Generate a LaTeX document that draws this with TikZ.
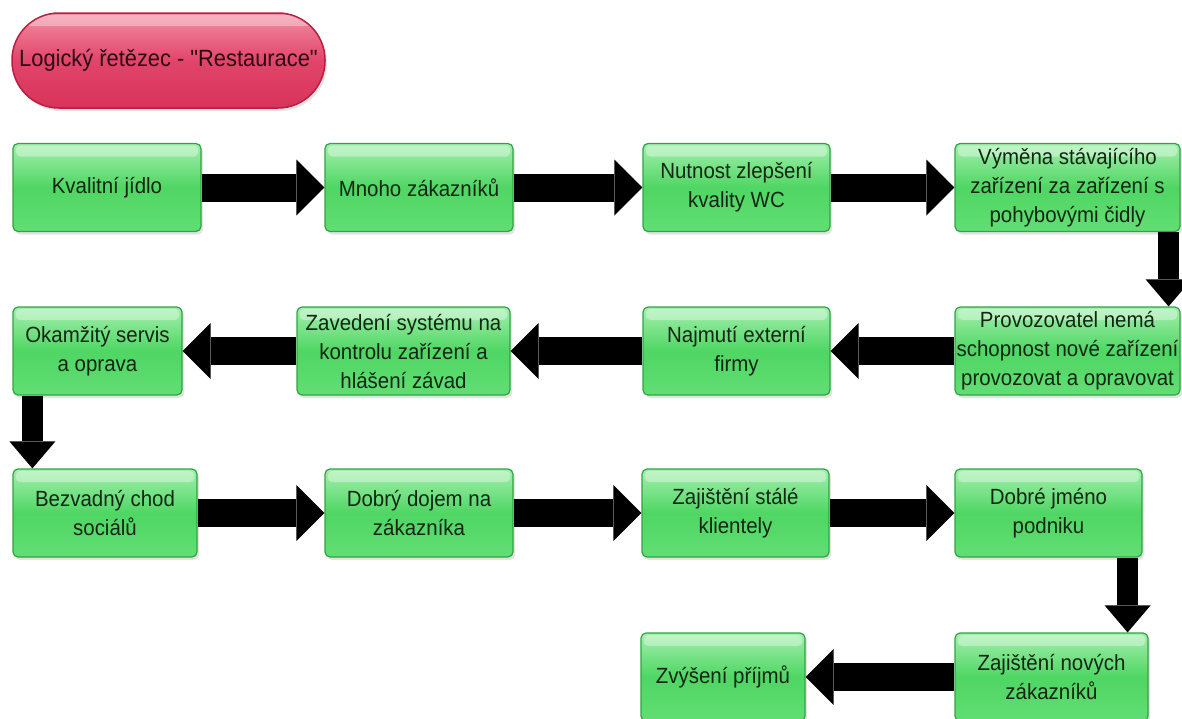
\documentclass[tikz,border=0pt]{standalone}
\usepackage{fontspec}
\newfontfamily\boxfont[FakeStretch=0.93]{Liberation Sans}
\usetikzlibrary{arrows.meta,shadows,calc}

\definecolor{gtop}{HTML}{A4F0AE}
\definecolor{gmid}{HTML}{4FD663}
\definecolor{gbot}{HTML}{62DE74}
\definecolor{gedge}{HTML}{2EA443}
\definecolor{gtext}{HTML}{132613}
\definecolor{rtop}{HTML}{F28DA2}
\definecolor{rmid}{HTML}{E2456A}
\definecolor{rbot}{HTML}{D8335A}
\definecolor{redge}{HTML}{B81E40}
\definecolor{rtext}{HTML}{2A0A12}

\tikzset{
  glossy/.style={
    path picture={
      \fill[white,opacity=0.35,rounded corners=4pt]
        ([xshift=3pt,yshift=-2pt]path picture bounding box.north west)
        rectangle ([xshift=-3pt,yshift=-13pt]path picture bounding box.north east);
    }},
  stepbox/.style={rectangle, rounded corners=5pt, draw=gedge, line width=1.2pt,
    top color=gtop, bottom color=gbot, middle color=gmid, glossy,
    drop shadow={shadow xshift=2pt, shadow yshift=-3pt, opacity=0.22},
    minimum height=88pt, inner sep=0pt, align=center, text=gtext,
    font=\boxfont\fontsize{22}{29}\selectfont},
  titlebox/.style={rectangle, rounded corners=47pt, draw=redge, line width=1.5pt,
    top color=rtop, bottom color=rbot, middle color=rmid, glossy,
    drop shadow={shadow xshift=2pt, shadow yshift=-3pt, opacity=0.22},
    minimum width=313pt, minimum height=95pt, inner sep=0pt, text=rtext,
    font=\boxfont\fontsize{23.5}{29}\selectfont},
  harrow/.style={line width=28pt, black, -{Triangle[width=56pt,length=28pt,line width=0pt]}},
  varrow/.style={line width=21pt, black, -{Triangle[width=46pt,length=27pt,line width=0pt]}}
}

\begin{document}
\begin{tikzpicture}[x=1pt,y=-1pt]
\useasboundingbox (0,0) rectangle (1182,718);

% title
\node[titlebox] (title) at (168.5,60.5) {Logický řetězec - "Restaurace"};

% row 1
\node[stepbox, minimum width=188pt] (a1) at (107,187.5) {Kvalitní jídlo};
\node[stepbox, minimum width=188pt] (a2) at (419,187.5) {Mnoho zákazníků};
\node[stepbox, minimum width=187pt] (a3) at (736.5,187.5) {Nutnost zlepšení\\kvality WC};
\node[stepbox, minimum width=225pt] (a4) at (1067.5,187.5) {Výměna stávajícího\\zařízení za zařízení s\\pohybovými čidly};

% row 2
\node[stepbox, minimum width=225pt] (b4) at (1067.5,351) {Provozovatel nemá\\schopnost nové zařízení\\provozovat a opravovat};
\node[stepbox, minimum width=187pt] (b3) at (736.5,351) {Najmutí externí\\firmy};
\node[stepbox, minimum width=213pt] (b2) at (403.5,351) {Zavedení systému na\\kontrolu zařízení a\\hlášení závad};
\node[stepbox, minimum width=169pt] (b1) at (97.5,351) {Okamžitý servis\\a oprava};

% row 3
\node[stepbox, minimum width=184pt] (c1) at (105,513) {Bezvadný chod\\sociálů};
\node[stepbox, minimum width=188pt] (c2) at (419,513) {Dobrý dojem na\\zákazníka};
\node[stepbox, minimum width=187pt] (c3) at (735.5,513) {Zajištění stálé\\klientely};
\node[stepbox, minimum width=187pt] (c4) at (1048.5,513) {Dobré jméno\\podniku};

% row 4
\node[stepbox, minimum width=193pt] (d2) at (1051.5,677) {Zajištění nových\\zákazníků};
\node[stepbox, minimum width=164pt] (d1) at (723,677) {Zvýšení příjmů};

% connectors
\draw[harrow] (a1.east) -- (a2.west);
\draw[harrow] (a2.east) -- (a3.west);
\draw[harrow] (a3.east) -- (a4.west);
\draw[varrow] ($(a4.south east)+(-12,0)$) -- ($(b4.north east)+(-12,0)$);
\draw[harrow] (b4.west) -- (b3.east);
\draw[harrow] (b3.west) -- (b2.east);
\draw[harrow] (b2.west) -- (b1.east);
\draw[varrow] ($(b1.south west)+(20,0)$) -- ($(c1.north west)+(20,0)$);
\draw[harrow] (c1.east) -- (c2.west);
\draw[harrow] (c2.east) -- (c3.west);
\draw[harrow] (c3.east) -- (c4.west);
\draw[varrow] ($(c4.south east)+(-15,0)$) -- ($(d2.north east)+(-21,0)$);
\draw[harrow] (d2.west) -- (d1.east);
\end{tikzpicture}
\end{document}
